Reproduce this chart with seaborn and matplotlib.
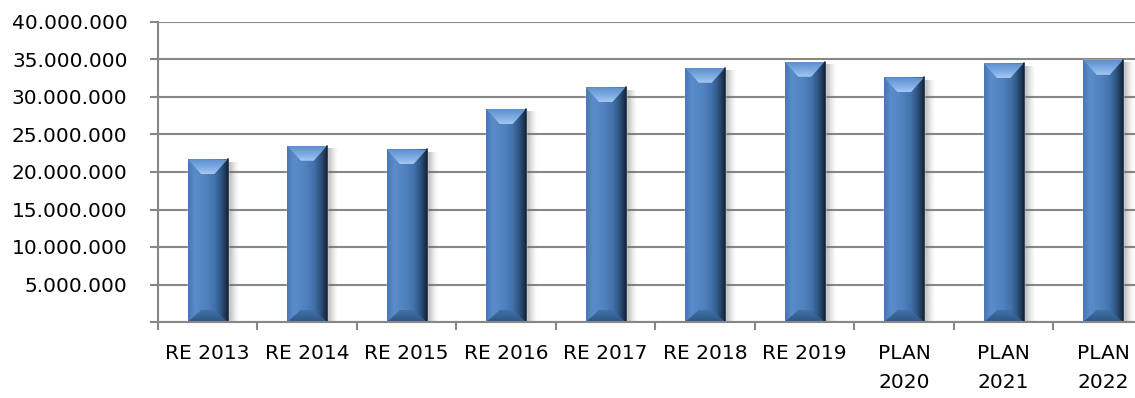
import numpy as np
import pandas as pd
import matplotlib
matplotlib.use("Agg")
import matplotlib.pyplot as plt
import seaborn as sns
from matplotlib.patches import Polygon
from matplotlib.colors import LinearSegmentedColormap
from matplotlib.ticker import FuncFormatter, MultipleLocator, FixedLocator

# data
categories = ["RE 2013", "RE 2014", "RE 2015", "RE 2016", "RE 2017",
              "RE 2018", "RE 2019", "PLAN\n2020", "PLAN\n2021", "PLAN\n2022"]
values = [21.7e6, 23.5e6, 23.0e6, 28.4e6, 31.3e6,
          33.9e6, 34.7e6, 32.6e6, 34.5e6, 34.95e6]

df = pd.DataFrame({"period": categories, "value": values})

sns.set_theme(style="white")
plt.rcParams["font.family"] = ["DejaVu Sans"]

fig = plt.figure(figsize=(11.35, 3.98), dpi=100)
ax = fig.add_axes([158 / 1135, 1 - 322 / 398, 1 - 158 / 1135, 300 / 398])

sns.barplot(data=df, x="period", y="value", color="#4F81BD",
            width=0.4, saturation=1, ax=ax, zorder=2)

ax.set_xlim(-0.5, 9.32)
ax.set_ylim(0, 40e6)

body_cmap = LinearSegmentedColormap.from_list(
    "body", ["#4877B3", "#5A8CCB", "#5587C5", "#4F80BC", "#4372AC", "#2F5683", "#17283E"])
top_cmap = LinearSegmentedColormap.from_list("top", ["#5E8FCD", "#7AA8E2", "#A4C8F2"])
bot_cmap = LinearSegmentedColormap.from_list("bot", ["#2E5582", "#4171AA"])

dx = 0.135       # bevel inset, category units
dy = 2.0e6       # bevel depth, value units
grad = np.linspace(0, 1, 64)

for p in list(ax.patches):
    x0, w, h = p.get_x(), p.get_width(), p.get_height()
    # soft shadow on the right
    sh = np.zeros((2, 64, 4))
    sh[..., :3] = 0.40
    sh[..., 3] = 0.55 * (1 - grad) ** 1.6
    ax.imshow(sh, extent=(x0 + w, x0 + w + 0.12, 0, h - 0.4e6),
              aspect="auto", zorder=1.5, interpolation="bilinear")
    # body with horizontal gradient
    im = ax.imshow(grad[None, :], cmap=body_cmap, extent=(x0, x0 + w, 0, h),
                   aspect="auto", zorder=3, interpolation="bilinear")
    im.set_clip_path(p)
    # top bevel
    top = Polygon([(x0, h), (x0 + w, h), (x0 + w - dx, h - dy), (x0 + dx, h - dy)],
                  closed=True, facecolor="none", edgecolor="none", zorder=4)
    ax.add_patch(top)
    im = ax.imshow(grad[:, None], cmap=top_cmap, extent=(x0, x0 + w, h - dy, h),
                   aspect="auto", zorder=4, interpolation="bilinear", origin="upper")
    im.set_clip_path(top)
    # bottom bevel
    bot = Polygon([(x0, 0), (x0 + w, 0), (x0 + w - dx, dy * 0.8), (x0 + dx, dy * 0.8)],
                  closed=True, facecolor="none", edgecolor="none", zorder=4)
    ax.add_patch(bot)
    im = ax.imshow(grad[:, None], cmap=bot_cmap, extent=(x0, x0 + w, 0, dy * 0.8),
                   aspect="auto", zorder=4, interpolation="bilinear", origin="lower")
    im.set_clip_path(bot)
    # dark right edge
    ax.plot([x0 + w, x0 + w], [0, h], color="#14233A", lw=1.2, zorder=5)

ax.set_aspect("auto")

ax.yaxis.set_major_locator(MultipleLocator(5e6))
ax.yaxis.set_major_formatter(
    FuncFormatter(lambda v, pos: "" if v == 0 else f"{v:,.0f}".replace(",", ".")))
ax.yaxis.grid(True, color="#878787", linewidth=1.5)
ax.set_axisbelow(True)

ax.xaxis.set_minor_locator(FixedLocator(np.arange(-0.5, 10, 1.0)))
ax.tick_params(axis="x", which="major", length=0, pad=16, labelsize=14.5,
               labelcolor="black")
ax.tick_params(axis="x", which="minor", length=6, width=1.5, color="#878787",
               direction="out", bottom=True)
ax.tick_params(axis="y", length=6, width=1.5, color="#878787", direction="out",
               left=True, pad=16, labelsize=14.5, labelcolor="black")
for lbl in ax.get_xticklabels():
    lbl.set_linespacing(1.65)

for s in ["top", "right"]:
    ax.spines[s].set_visible(False)
for s in ["left", "bottom"]:
    ax.spines[s].set_color("#878787")
    ax.spines[s].set_linewidth(1.5)
    ax.spines[s].set_zorder(6)

ax.set_xlabel("")
ax.set_ylabel("")

fig.savefig("out.png", dpi=100)
